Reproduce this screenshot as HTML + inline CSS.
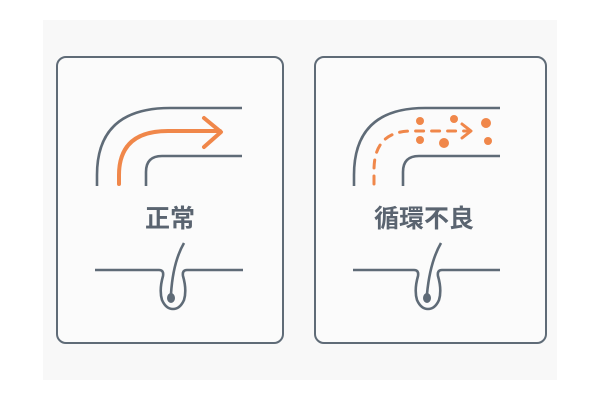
<!DOCTYPE html>
<html><head><meta charset="utf-8"><style>
html,body{margin:0;padding:0;background:#fff;}
svg{display:block}
</style></head><body>
<svg width="600" height="400" viewBox="0 0 600 400" xmlns="http://www.w3.org/2000/svg">
<rect x="43" y="20" width="514" height="360" fill="#f8f8f8"/>
<g fill="#fbfbfb" stroke="#5f6b77" stroke-width="2">
<rect x="57" y="57" width="226" height="286" rx="9"/>
<rect x="315" y="57" width="231" height="286" rx="9"/>
</g>
<g fill="none" stroke="#5f6b77" stroke-width="2.6" stroke-linecap="butt">
<path d="M97,186 L97,175 Q97,108 170,108 L242,108"/>
<path d="M146,186 L146,172 Q146,156 162,156 L242,156"/>
<path d="M354,186 L354,175 Q354,108 425,108 L500,108"/>
<path d="M403,186 L403,172 Q403,156 419,156 L500,156"/>
<path d="M95,270 L159,270 Q164,270 163,276 Q159,290 162,300 Q166,309 173,309 Q180,309 184,300 Q187,290 183,276 Q182,270 187,270 L243,270"/>
<path d="M353,270 L414,270 Q419,270 418,276 Q414,290 417,300 Q421,309 428,309 Q435,309 439,300 Q442,290 438,276 Q437,270 442,270 L500,270"/>
<path d="M184,243 Q173,262 171,294"/>
<path d="M441,243 Q430,262 427,294"/>
</g>
<ellipse cx="171" cy="298" rx="4" ry="5" fill="#5f6b77"/>
<ellipse cx="427" cy="298" rx="4" ry="5" fill="#5f6b77"/>
<g fill="none" stroke="#f0874a" stroke-width="4" stroke-linecap="round" stroke-linejoin="round">
<path d="M119,184 L119,175 Q119,131 168,131 L220,131"/>
<path d="M204,118 L221,132 L204,147"/>
</g>
<g fill="none" stroke="#f0874a" stroke-width="3" stroke-linecap="round" stroke-linejoin="round">
<path d="M374,184 L374,170 Q374,131 412,131 L470,131" stroke-dasharray="8,8"/>
<path d="M462,124 L471,131 L462,138"/>
</g>
<g fill="#f0874a">
<circle cx="420" cy="121" r="4"/><circle cx="454" cy="119" r="4"/><circle cx="486" cy="123" r="5"/>
<circle cx="420" cy="140" r="4"/><circle cx="444" cy="143" r="5"/><circle cx="488" cy="141" r="4"/>
</g>
<g font-family="'Liberation Sans','Noto Sans CJK JP',sans-serif" font-weight="bold" font-size="25" fill="#5a6470" text-anchor="middle">
<text x="170" y="227">正常</text>
<text x="424" y="227">循環不良</text>
</g>
</svg>
</body></html>
